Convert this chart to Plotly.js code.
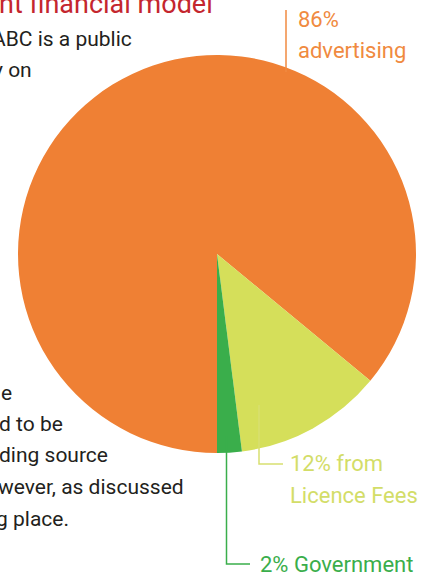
<!DOCTYPE html>
<html>
<head>
<meta charset="utf-8">
<script src="https://cdn.plot.ly/plotly-3.0.1.min.js"></script>
<style>html,body{margin:0;padding:0;background:#fff;}#chart{width:421px;height:576px;}</style>
</head>
<body>
<div id="chart"></div>
<script>
// Data (clockwise from 6 o'clock)
const sources = ["Advertising", "Licence Fees", "Government"];
const shares = [86, 12, 2];
const sliceColors = ["#EF8034", "#D5DF5A", "#3AAE4B"];
const labelLines = {
  Advertising: ["86%", "advertising"],
  "Licence Fees": ["12% from", "Licence Fees"],
  Government: ["2% Government"]
};
const titleFragment = "nt financial model";
const bodyTop = ["ABC is a public", "y on"];
const bodyBottom = ["e", "d to be", "ding source", "wever, as discussed", "g place."];

const W = 421, H = 576;
const px = x => x / W;
const py = y => 1 - y / H;
const FONT = 'Roboto, "Liberation Sans", sans-serif';

const trace = {
  type: "pie",
  labels: sources,
  values: shares,
  marker: { colors: sliceColors, line: { width: 0 } },
  sort: false,
  direction: "clockwise",
  rotation: 180,
  textinfo: "none",
  hoverinfo: "label+percent",
  showlegend: false,
  domain: { x: [px(18), px(416)], y: [py(453), py(55)] }
};

const ann = [];
function addText(text, xPos, baseline, size, color, anchor) {
  ann.push({
    xref: "paper", yref: "paper",
    x: px(xPos), y: py(baseline + size * 0.26),
    xanchor: anchor || "right", yanchor: "bottom",
    text: text, showarrow: false,
    font: { family: FONT, size: size, color: color },
    borderpad: 0
  });
}
// title fragment
addText(titleFragment, 214, 14, 27, "#C4262E");
// body text
const topRights = [133, 33];
const topBase = [47, 78];
bodyTop.forEach((t, i) => addText(t, topRights[i], topBase[i], 21, "#231F20"));
const botRights = [13, 64, 109, 185, 70];
const botBase = [401, 432, 463, 495, 527];
bodyBottom.forEach((t, i) => addText(t, botRights[i], botBase[i], 21, "#231F20"));
// slice labels
labelLines.Advertising.forEach((t, i) => addText(t, 297, [27, 58][i], 22, "#F08A40", "left"));
labelLines["Licence Fees"].forEach((t, i) => addText(t, 289, [471, 503][i], 22, "#D3DD68", "left"));
labelLines.Government.forEach((t, i) => addText(t, 259, 572, 22, "#3AAE4B", "left"));

const shapes = [
  { type: "line", xref: "paper", yref: "paper", x0: px(286), x1: px(286), y0: py(10), y1: py(72), line: { color: "#F08A40", width: 1.5 } },
  { type: "path", xref: "paper", yref: "paper",
    path: `M ${px(259)} ${py(405)} L ${px(259)} ${py(464)} L ${px(283)} ${py(464)}`,
    line: { color: "#D8E070", width: 1.5 } },
  { type: "path", xref: "paper", yref: "paper",
    path: `M ${px(226.5)} ${py(436)} L ${px(226.5)} ${py(564)} L ${px(250)} ${py(564)}`,
    line: { color: "#3AAE4B", width: 1.5 } }
];

const layout = {
  width: W, height: H,
  margin: { l: 0, r: 0, t: 0, b: 0 },
  paper_bgcolor: "#fff",
  plot_bgcolor: "#fff",
  annotations: ann,
  shapes: shapes,
  showlegend: false
};
Plotly.newPlot("chart", [trace], layout, { displayModeBar: false, staticPlot: true });
</script>
</body>
</html>
